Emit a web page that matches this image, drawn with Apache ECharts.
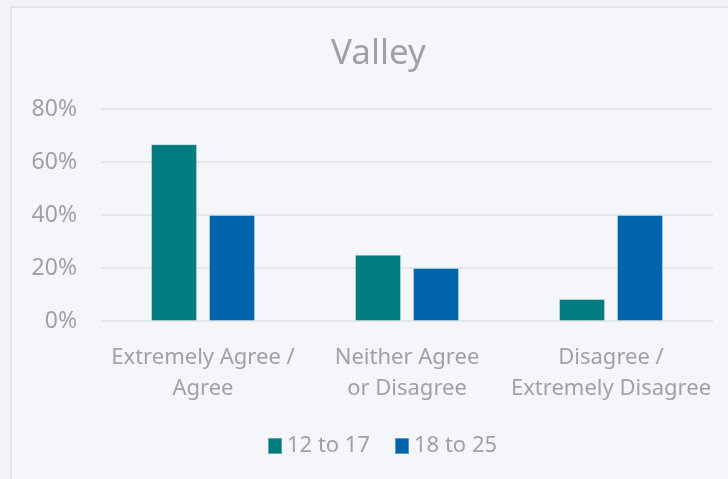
<!DOCTYPE html>
<html>
<head>
<meta charset="utf-8">
<script src="https://cdn.jsdelivr.net/npm/echarts@6/dist/echarts.min.js"></script>
<style>
  html, body { margin: 0; padding: 0; background: #F2F3F7; }
  .panel {
    position: absolute; left: 10px; top: 6px; width: 760px; height: 500px;
    background: #F5F6FA; border-left: 2px solid #E6E7EB; border-top: 2px solid #E6E7EB;
  }
  #chart { position: absolute; left: 0; top: 0; width: 728px; height: 479px; }
</style>
</head>
<body>
<div class="panel"></div>
<div id="chart"></div>
<script>
// chart data
const categories = ['Extremely Agree /\nAgree', 'Neither Agree\nor Disagree', 'Disagree /\nExtremely Disagree'];
const seriesNames = ['12 to 17', '18 to 25'];
const teen = [66.7, 25, 8.3];
const young = [40, 20, 40];
const yTicks = { min: 0, max: 80, interval: 20 };

const textColor = '#A0A1A6';
const fontFamily = '"Noto Sans", "Open Sans", sans-serif';

const chart = echarts.init(document.getElementById('chart'));
chart.setOption({
  backgroundColor: 'transparent',
  textStyle: { fontFamily: fontFamily },
  title: {
    text: 'Valley',
    left: 326,
    top: 32,
    textStyle: { fontSize: 35, fontWeight: 'normal', color: textColor, fontFamily: fontFamily }
  },
  legend: {
    left: 262,
    top: 430,
    itemWidth: 14,
    itemHeight: 16,
    itemGap: 24,
    icon: 'rect',
    textStyle: { fontSize: 22, color: textColor, fontFamily: fontFamily },
    data: seriesNames
  },
  grid: { left: 101, right: 15, top: 109, bottom: 158 },
  xAxis: {
    type: 'category',
    data: categories,
    axisLine: { show: false },
    axisTick: { show: false },
    axisLabel: {
      interval: 0,
      margin: 21,
      fontSize: 22,
      lineHeight: 31,
      color: textColor,
      fontFamily: fontFamily
    }
  },
  yAxis: {
    type: 'value',
    min: yTicks.min,
    max: yTicks.max,
    interval: yTicks.interval,
    axisLine: { show: false },
    axisTick: { show: false },
    splitLine: { lineStyle: { color: '#E6E7EB', width: 2 } },
    axisLabel: {
      formatter: '{value}%',
      margin: 24,
      fontSize: 23,
      color: textColor,
      fontFamily: fontFamily
    }
  },
  series: [
    {
      name: seriesNames[0],
      type: 'bar',
      data: teen,
      barWidth: 46,
      barGap: '26%',
      itemStyle: { color: '#007B7F', borderColor: 'rgba(255,255,255,0.35)', borderWidth: 1 }
    },
    {
      name: seriesNames[1],
      type: 'bar',
      data: young,
      barWidth: 46,
      itemStyle: { color: '#0065AB', borderColor: 'rgba(255,255,255,0.35)', borderWidth: 1 }
    }
  ]
});
</script>
</body>
</html>
